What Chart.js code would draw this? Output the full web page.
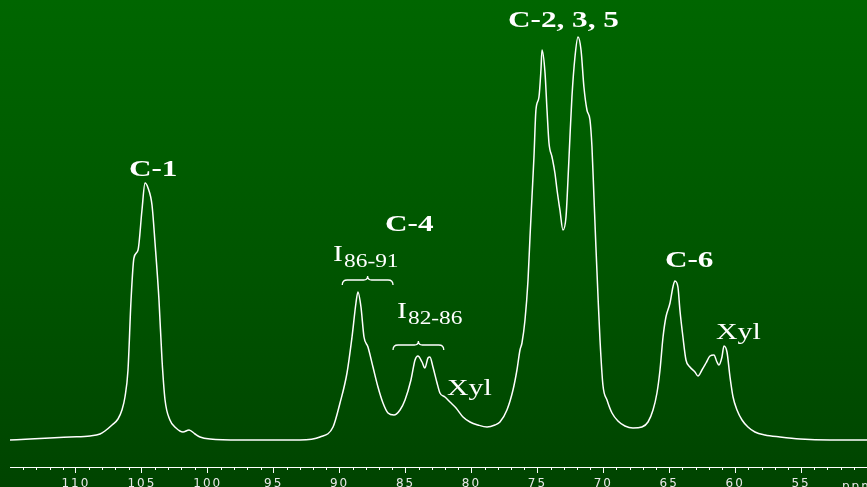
<!DOCTYPE html>
<html>
<head>
<meta charset="utf-8">
<script src="https://cdn.jsdelivr.net/npm/chart.js@4.4.1/dist/chart.umd.min.js"></script>
<style>
  html, body { margin: 0; padding: 0; }
  body {
    width: 867px; height: 487px; overflow: hidden;
    background: linear-gradient(to bottom, #006600 0%, #005500 55%, #004400 100%);
  }
  #wrap { position: relative; width: 867px; height: 487px; }
</style>
</head>
<body>
<div id="wrap"><canvas id="nmr"></canvas></div>
<script>
/////////////////////////////
// Data | 13C NMR spectrum
/////////////////////////////

const ppm = [
  115.00, 113.48, 111.97, 110.45, 108.93, 108.17, 107.80, 107.26, 106.81, 106.51,
  106.28, 106.05, 105.82, 105.60, 105.29, 104.99, 104.76, 104.53, 104.23, 104.00,
  103.70, 103.47, 103.24, 102.87, 102.41, 101.88, 101.42, 100.97, 100.59, 99.83,
  97.56, 95.28, 93.01, 91.49, 90.50, 89.97, 89.44, 89.06, 88.76, 88.61,
  88.38, 88.15, 87.85, 87.47, 87.09, 86.71, 86.33, 85.88, 85.42, 85.04,
  84.59, 84.28, 84.06, 83.75, 83.53, 83.30, 83.15, 82.92, 82.61, 82.39,
  82.01, 81.63, 81.17, 80.64, 80.11, 79.51, 78.82, 78.22, 77.84, 77.31,
  76.85, 76.55, 76.32, 76.17, 75.94, 75.71, 75.56, 75.41, 75.26, 75.11,
  74.88, 74.73, 74.65, 74.42, 74.27, 74.12, 73.89, 73.67, 73.51, 73.29,
  73.06, 72.83, 72.68, 72.53, 72.38, 72.15, 71.92, 71.69, 71.47, 71.24,
  71.01, 70.86, 70.71, 70.56, 70.40, 70.25, 70.03, 69.72, 69.34, 68.89,
  68.36, 67.75, 67.07, 66.61, 66.23, 65.93, 65.70, 65.47, 65.25, 64.94,
  64.72, 64.57, 64.34, 64.19, 63.96, 63.73, 63.43, 63.05, 62.82, 62.52,
  62.21, 61.91, 61.61, 61.38, 61.23, 61.00, 60.85, 60.62, 60.39, 60.16,
  59.86, 59.48, 59.03, 58.50, 57.74, 56.60, 55.08, 52.81, 50.00
];

const intensity = [
  0, 1, 2, 3, 4, 6, 9, 15, 21, 30,
  43, 70, 140, 182, 190, 230, 257, 252, 235, 197,
  140, 80, 40, 20, 12, 8, 10, 6, 3, 1,
  0, 0, 0, 3, 13, 37, 67, 103, 137, 148,
  133, 103, 93, 73, 53, 37, 27, 25, 30, 40,
  60, 80, 84, 78, 72, 82, 83, 73, 57, 47,
  43, 38, 32, 23, 18, 15, 13, 15, 18, 30,
  50, 70, 90, 97, 120, 160, 203, 243, 283, 330,
  343, 370, 390, 367, 330, 297, 283, 267, 250, 230,
  210, 223, 260, 303, 343, 383, 403, 390, 353, 330,
  320, 293, 243, 193, 143, 100, 55, 40, 27, 19,
  14, 12, 13, 18, 30, 47, 70, 103, 123, 137,
  153, 159, 153, 130, 103, 80, 73, 68, 64, 70,
  77, 84, 85, 78, 75, 83, 94, 88, 63, 43,
  30, 20, 13, 8, 5, 3, 1, 0, 0
];

const tickLabels = [110, 105, 100, 95, 90, 85, 80, 75, 70, 65, 60, 55];

// peak assignments: text, optional subscript, ppm of left edge, height
const peakLabels = [
  { text: 'C-1',       sub: '',      at: 105.98, level: 264, bold: true },
  { text: 'C-4',       sub: '',      at: 86.56,  level: 209, bold: true },
  { text: 'I',         sub: '86-91', at: 90.50,  level: 179, bold: false },
  { text: 'I',         sub: '82-86', at: 85.65,  level: 122, bold: false },
  { text: 'Xyl',       sub: '',      at: 81.86,  level: 45,  bold: false },
  { text: 'C-2, 3, 5', sub: '',      at: 77.23,  level: 413, bold: true },
  { text: 'C-6',       sub: '',      at: 65.33,  level: 173, bold: true },
  { text: 'Xyl',       sub: '',      at: 61.46,  level: 101, bold: false }
];

const braces = [
  { from: 89.8, to: 85.95, level: 160 },
  { from: 85.95, to: 82.1, level: 95 }
];

/////////////////////////////
// Helpers
/////////////////////////////

const SERIF = '"Liberation Serif", "Times New Roman", serif';

function stretchText(ctx, text, px, py, font, sx) {
  ctx.save();
  ctx.translate(px, py);
  ctx.scale(sx, 1);
  ctx.font = font;
  ctx.fillText(text, 0, 0);
  const w = ctx.measureText(text).width * sx;
  ctx.restore();
  return w;
}

function drawBrace(ctx, x1, x2, yy) {
  const xm = (x1 + x2) / 2;
  ctx.beginPath();
  ctx.moveTo(x1, yy + 5);
  ctx.quadraticCurveTo(x1, yy, x1 + 5, yy);
  ctx.lineTo(xm - 4, yy);
  ctx.quadraticCurveTo(xm, yy, xm, yy - 4);
  ctx.quadraticCurveTo(xm, yy, xm + 4, yy);
  ctx.lineTo(x2 - 5, yy);
  ctx.quadraticCurveTo(x2, yy, x2, yy + 5);
  ctx.stroke();
}

const extras = {
  id: 'extras',
  beforeDraw(chart) {
    chart.ctx.letterSpacing = '2px';
  },
  afterDraw(chart) {
    const { ctx, chartArea } = chart;
    const x = chart.scales.x, y = chart.scales.y;
    ctx.save();
    ctx.letterSpacing = '0px';
    ctx.strokeStyle = '#ffffff';
    ctx.fillStyle = '#ffffff';
    ctx.lineWidth = 1;

    // minor ticks
    const yb = chartArea.bottom;
    for (let v = 51; v < 115; v++) {
      if (v % 5 === 0) continue;
      const px = Math.round(x.getPixelForValue(v)) + 0.5;
      ctx.beginPath();
      ctx.moveTo(px, yb);
      ctx.lineTo(px, yb + 3);
      ctx.stroke();
    }

    // braces
    ctx.lineWidth = 1.3;
    braces.forEach(b => drawBrace(ctx, x.getPixelForValue(b.from), x.getPixelForValue(b.to), y.getPixelForValue(b.level)));

    // peak labels
    ctx.textBaseline = 'alphabetic';
    ctx.textAlign = 'left';
    peakLabels.forEach(l => {
      const px = x.getPixelForValue(l.at);
      const py = y.getPixelForValue(l.level);
      const font = (l.bold ? 'bold 24px ' : '23px ') + SERIF;
      const w = stretchText(ctx, l.text, px, py, font, 1.3);
      if (l.sub) stretchText(ctx, l.sub, px + w + 1, py + 6, '18px ' + SERIF, 1.3);
    });

    // unit
    ctx.fillStyle = '#e8e8e8';
    ctx.font = '12px "DejaVu Sans", sans-serif';
    ctx.letterSpacing = '2px';
    ctx.fillText('ppm', x.getPixelForValue(51.9), 490);
    ctx.restore();
  }
};

/////////////////////////////
// Chart
/////////////////////////////

const ctx = document.getElementById('nmr').getContext('2d');
const nmrChart = new Chart(ctx, {
  type: 'line',
  data: {
    datasets: [{
      data: ppm.map((p, i) => ({ x: p, y: intensity[i] })),
      borderColor: '#ffffff',
      borderWidth: 1.5,
      pointRadius: 0,
      fill: false,
      cubicInterpolationMode: 'monotone'
    }]
  },
  options: {
    responsive: true,
    maintainAspectRatio: false,
    animation: false,
    layout: { padding: { left: 10, right: 0, top: 0, bottom: 0 } },
    plugins: { legend: { display: false }, tooltip: { enabled: false } },
    scales: {
      x: {
        type: 'linear',
        reverse: true,
        min: 50,
        max: 115,
        afterFit: s => { s.height = 20; s.paddingLeft = 0; s.paddingRight = 0; },
        grid: {
          drawOnChartArea: false,
          tickLength: 6,
          tickColor: c => tickLabels.includes(c.tick && c.tick.value) ? '#ffffff' : 'rgba(0,0,0,0)'
        },
        border: { display: true, color: '#ffffff', width: 1 },
        ticks: {
          stepSize: 1,
          autoSkip: false,
          maxRotation: 0,
          padding: 5,
          color: '#e8e8e8',
          font: { family: '"DejaVu Sans", sans-serif', size: 12, lineHeight: 1 },
          callback: v => tickLabels.includes(v) ? String(v) : ''
        }
      },
      y: {
        display: false,
        min: -27,
        max: 440
      }
    }
  },
  plugins: [extras]
});
</script>
</body>
</html>
